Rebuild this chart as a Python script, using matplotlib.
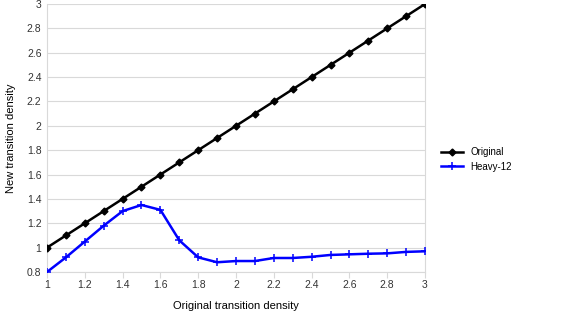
import matplotlib
matplotlib.use("Agg")
import matplotlib.pyplot as plt
import numpy as np

plt.rcParams.update({
    "font.family": ["Liberation Sans", "DejaVu Sans"],
    "font.size": 7.5,
})

x_vals = [1.0, 1.1, 1.2, 1.3, 1.4, 1.5, 1.6, 1.7, 1.8, 1.9, 2.0,
          2.1, 2.2, 2.3, 2.4, 2.5, 2.6, 2.7, 2.8, 2.9, 3.0]
original = [1.0, 1.1, 1.2, 1.3, 1.4, 1.5, 1.6, 1.7, 1.8, 1.9, 2.0,
            2.1, 2.2, 2.3, 2.4, 2.5, 2.6, 2.7, 2.8, 2.9, 3.0]
heavy12 = [0.80, 0.92, 1.05, 1.18, 1.30, 1.35, 1.31, 1.06, 0.92, 0.88, 0.89,
           0.89, 0.915, 0.915, 0.925, 0.94, 0.945, 0.95, 0.953, 0.965, 0.97]

GRID = "#d9d9d9"

fig = plt.figure(figsize=(5.67, 3.13), dpi=100)
ax = fig.add_axes([47 / 567, 1 - 272 / 313, (425 - 47) / 567, (272 - 4) / 313])

ax.plot(x_vals, original, color="black", linewidth=1.8, marker="D",
        markersize=3.5, label="Original", zorder=3)
ax.plot(x_vals, heavy12, color="#0000ff", linewidth=1.8, marker="+",
        markersize=5.5, markeredgewidth=1.1, label="Heavy-12", zorder=3)

ax.set_xlim(1, 3)
ax.set_ylim(0.8, 3)
ax.set_xticks(np.arange(1, 3.01, 0.2))
ax.set_yticks(np.arange(0.8, 3.01, 0.2))
ax.xaxis.set_major_formatter(matplotlib.ticker.FuncFormatter(lambda v, _: f"{v:g}"))
ax.yaxis.set_major_formatter(matplotlib.ticker.FuncFormatter(lambda v, _: f"{v:g}"))
ax.grid(axis="y", color=GRID, linewidth=0.8, zorder=0)
for s in ax.spines.values():
    s.set_color(GRID)
ax.spines["top"].set_visible(False)
ax.tick_params(axis="x", length=4, color=GRID, labelcolor="#333333", pad=2)
ax.tick_params(axis="y", length=0, labelcolor="#333333", pad=4)

ax.set_xlabel("Original transition density", fontsize=8, labelpad=8)
ax.set_ylabel("New transition density", fontsize=8, labelpad=8)

ax.legend(loc="center left", bbox_to_anchor=(1.02, 0.42), frameon=False,
          fontsize=7, handlelength=2.2, labelspacing=0.5)

fig.savefig("out.png", dpi=100)
